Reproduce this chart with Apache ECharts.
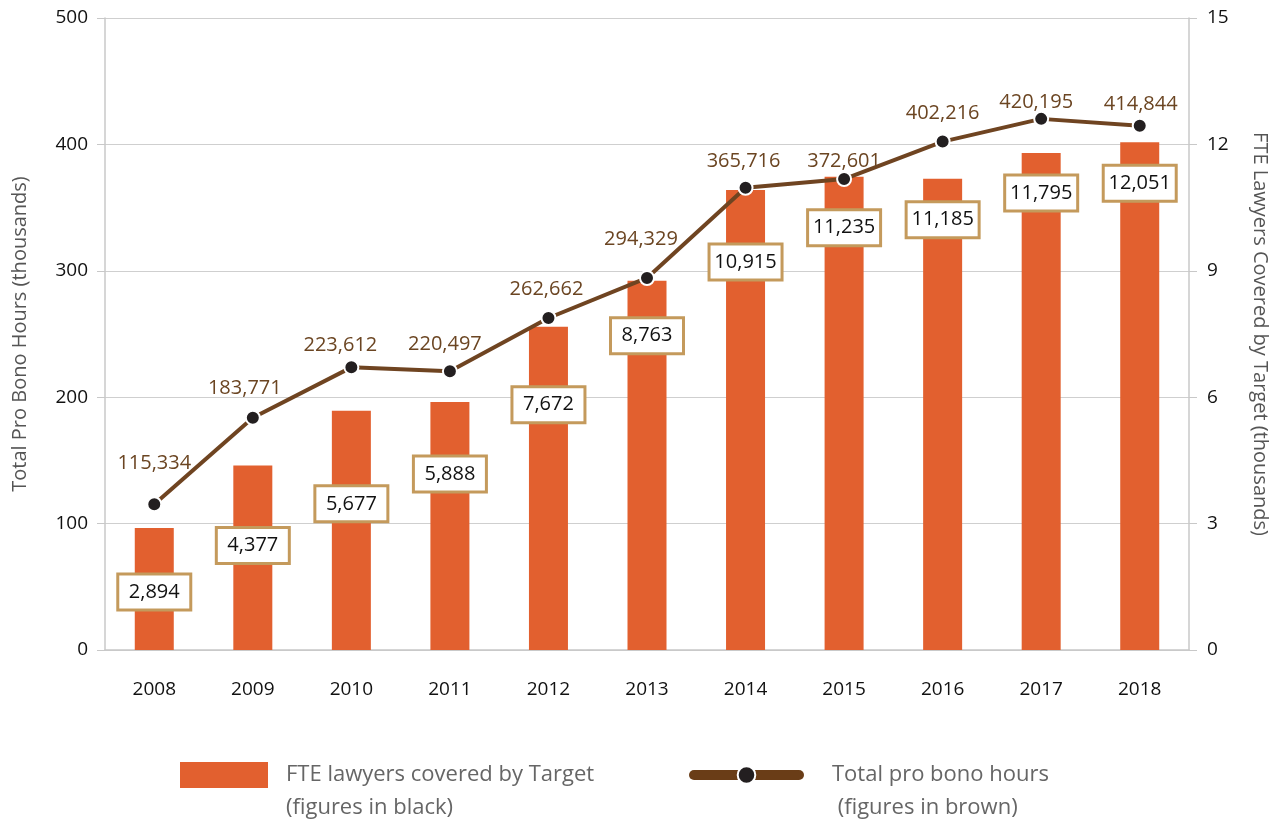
<!DOCTYPE html>
<html>
<head>
<meta charset="utf-8">
<script src="https://cdn.jsdelivr.net/npm/echarts@6/dist/echarts.min.js"></script>
<style>
  html, body { margin: 0; padding: 0; background: #fff; }
  #chart { width: 1284px; height: 823px; }
</style>
</head>
<body>
<div id="chart"></div>
<script>
  // data
  var years = ['2008', '2009', '2010', '2011', '2012', '2013', '2014', '2015', '2016', '2017', '2018'];
  var fteLawyers = [2894, 4377, 5677, 5888, 7672, 8763, 10915, 11235, 11185, 11795, 12051];
  var proBonoHours = [115334, 183771, 223612, 220497, 262662, 294329, 365716, 372601, 402216, 420195, 414844];

  // label placement (pixels), not data
  var barLabelDy = [64, 80, 93, 72, 78, 55, 72, 51, 41, 40, 41];
  var lineLabelDx = [0, -8, -11, -5, -2, -6, -2, 0, 0, -5, 1];
  var lineLabelDy = [41, 29, 22, 27, 29, 39, 26, 18, 28, 17, 21];

  var fmt = function (v) { return v.toLocaleString('en-US'); };
  var font = 'Open Sans';

  var chart = echarts.init(document.getElementById('chart'));

  var barData = fteLawyers.map(function (v, i) {
    return {
      value: v / 1000,
      label: { position: ['50%', barLabelDy[i]] }
    };
  });
  var lineData = proBonoHours.map(function (v, i) {
    return {
      value: v / 1000,
      label: { offset: [lineLabelDx[i], -lineLabelDy[i]] }
    };
  });

  var option = {
    backgroundColor: '#fff',
    textStyle: { fontFamily: font },
    grid: { left: 105, right: 95, top: 18, bottom: 173, outerBoundsMode: 'none', containLabel: false },
    legend: [
      {
        data: ['FTE lawyers covered by Target'],
        left: 180, top: 762, padding: 0,
        icon: 'rect', itemWidth: 88, itemHeight: 26,
        textStyle: { fontSize: 22, color: '#666', padding: [0, 0, 0, 13], fontFamily: font }
      },
      {
        data: ['Total pro bono hours'],
        left: 689, top: 764, padding: 0,
        itemWidth: 105, itemHeight: 22,
        lineStyle: { width: 10, cap: 'round', color: '#6a3d17' },
        itemStyle: { color: '#231f20', borderColor: '#fff', borderWidth: 2 },
        textStyle: { fontSize: 22, color: '#666', padding: [0, 0, 0, 28], fontFamily: font }
      }
    ],
    graphic: [
      {
        type: 'text', left: 286, top: 797,
        style: { text: '(figures in black)', fill: '#666', font: '22px "Open Sans"' }
      },
      {
        type: 'text', left: 832, top: 797,
        style: { text: ' (figures in brown)', fill: '#666', font: '22px "Open Sans"' }
      }
    ],
    xAxis: {
      type: 'category',
      data: years,
      axisLine: { lineStyle: { color: '#c8c8c8', width: 1.5 } },
      axisTick: { show: false },
      axisLabel: { color: '#111', fontSize: 19, margin: 30, fontFamily: font }
    },
    yAxis: [
      {
        type: 'value', min: 0, max: 500, interval: 100,
        name: 'Total Pro Bono Hours (thousands)',
        nameLocation: 'middle', nameRotate: 90, nameGap: 75,
        nameTextStyle: { color: '#555', fontSize: 20, fontFamily: font },
        axisLine: { show: true, lineStyle: { color: '#c8c8c8', width: 1.5 } },
        axisTick: { show: true, length: 8, lineStyle: { color: '#c8c8c8' } },
        axisLabel: { color: '#111', fontSize: 19, margin: 17, fontFamily: font },
        splitLine: { lineStyle: { color: '#cfcfcf' } }
      },
      {
        type: 'value', min: 0, max: 15, interval: 3,
        name: 'FTE Lawyers Covered by Target (thousands)',
        nameLocation: 'middle', nameRotate: -90, nameGap: 61,
        nameTextStyle: { color: '#555', fontSize: 20, fontFamily: font },
        axisLine: { show: true, lineStyle: { color: '#c8c8c8', width: 1.5 } },
        axisTick: { show: true, length: 8, lineStyle: { color: '#c8c8c8' } },
        axisLabel: { color: '#111', fontSize: 19, margin: 18, fontFamily: font },
        splitLine: { show: false }
      }
    ],
    series: [
      {
        name: 'FTE lawyers covered by Target',
        type: 'bar',
        yAxisIndex: 1,
        barWidth: 39,
        data: barData,
        itemStyle: { color: '#e2602f' },
        label: {
          show: true,
          align: 'center',
          verticalAlign: 'middle',
          formatter: function (p) { return fmt(fteLawyers[p.dataIndex]); },
          color: '#111',
          fontSize: 20,
          fontFamily: font,
          width: 54,
          backgroundColor: '#fff',
          borderColor: '#c49a5c',
          borderWidth: 3,
          padding: [7, 8, 6, 8]
        },
        z: 2
      },
      {
        name: 'Total pro bono hours',
        type: 'line',
        yAxisIndex: 0,
        data: lineData,
        symbol: 'circle',
        symbolSize: 14,
        lineStyle: { color: '#6f4421', width: 4 },
        itemStyle: { color: '#231f20', borderColor: '#fff', borderWidth: 2 },
        label: {
          show: true,
          position: 'inside',
          formatter: function (p) { return fmt(proBonoHours[p.dataIndex]); },
          color: '#6b4522',
          fontSize: 20,
          fontFamily: font
        },
        z: 3
      }
    ]
  };
  option && chart.setOption(option);
</script>
</body>
</html>
